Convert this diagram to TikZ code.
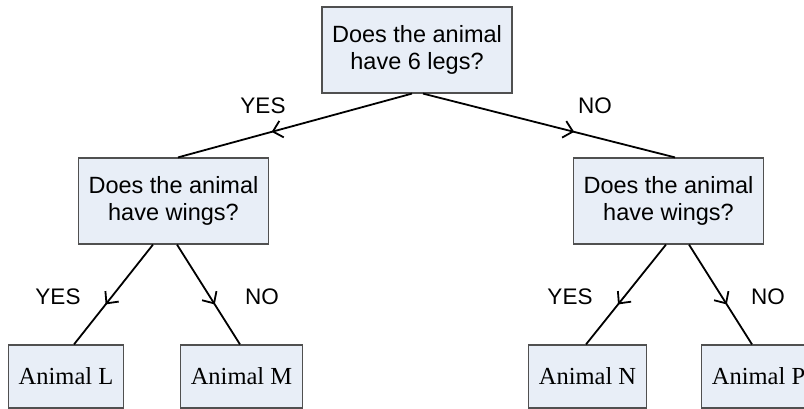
\documentclass[tikz,border=0pt]{standalone}
\usepackage{fontspec}
\setmainfont{Liberation Serif}
\setsansfont{Liberation Sans}
\usetikzlibrary{arrows.meta,decorations.markings}
\definecolor{boxfill}{HTML}{E8EEF7}
\definecolor{boxline}{HTML}{505050}

\begin{document}
\begin{tikzpicture}[x=1pt,y=-1pt,
        question/.style={draw=boxline,fill=boxfill,line width=1.2pt,align=center,inner xsep=10pt,minimum height=86pt,font=\sffamily\fontsize{23.5}{27}\selectfont},
        animal/.style={draw=boxline,fill=boxfill,line width=1.2pt,inner xsep=10pt,minimum height=63pt,font=\fontsize{24.5}{28}\selectfont},
        answer/.style={font=\sffamily\fontsize{22.5}{26}\selectfont,inner sep=0pt},
        branch/.style={line width=1.8pt,postaction={decorate},
            decoration={markings,mark=at position 0.6 with {\arrow{Straight Barb[length=9pt,width=17pt]}}}}]
    \useasboundingbox (0,0) rectangle (804,409);

    \node[question] (legs) at (417,50) {Does the animal\\have 6 legs?};
    \node[question] (wingsL) at (173.5,201) {Does the animal\\have wings?};
    \node[question] (wingsR) at (668.5,201) {Does the animal\\have wings?};
    \node[animal] (animalL) at (66,376.5) {Animal L};
    \node[animal] (animalM) at (241.5,376.5) {Animal M};
    \node[animal] (animalN) at (587.5,376.5) {Animal N};
    \node[animal] (animalP) at (758.5,376.5) {Animal P};

    \draw[branch] ([xshift=-5pt]legs.south) -- ([xshift=4.5pt]wingsL.north);
    \draw[branch] ([xshift=6pt]legs.south) -- ([xshift=6.5pt]wingsR.north);
    \draw[branch] ([xshift=-20.5pt]wingsL.south) -- ([xshift=8pt]animalL.north);
    \draw[branch] ([xshift=3.5pt]wingsL.south) -- ([xshift=-1.5pt]animalM.north);
    \draw[branch] ([xshift=-2.5pt]wingsR.south) -- ([xshift=-1.5pt]animalN.north);
    \draw[branch] ([xshift=20.5pt]wingsR.south) -- ([xshift=-6.5pt]animalP.north);

    \node[answer] (yesLegs) at (263,106) {YES};
    \node[answer] (noLegs) at (595,106) {NO};
    \node[answer] (yesWingsL) at (58,297) {YES};
    \node[answer] (noWingsL) at (262,297) {NO};
    \node[answer] (yesWingsR) at (570,297) {YES};
    \node[answer] (noWingsR) at (768,297) {NO};
\end{tikzpicture}
\end{document}
